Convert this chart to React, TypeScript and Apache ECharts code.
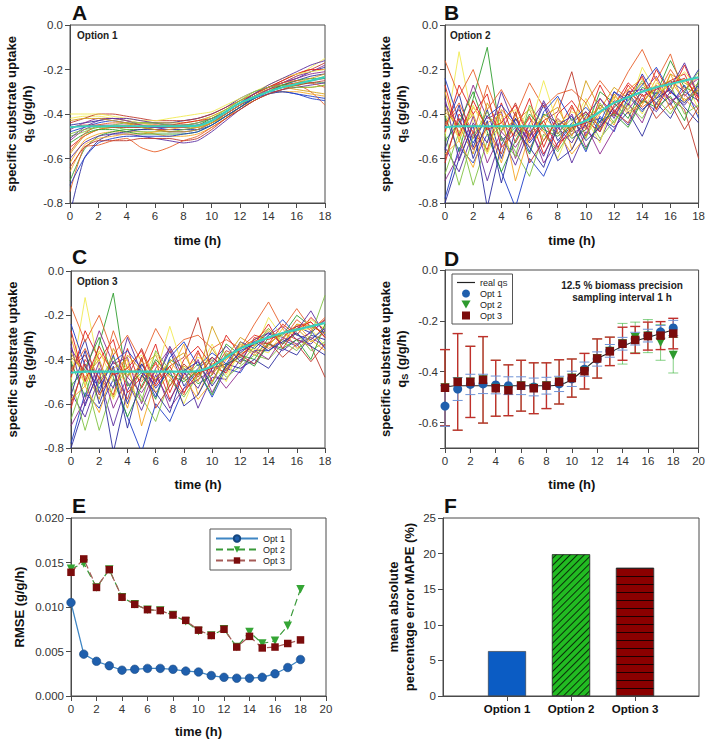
import React, { useEffect, useRef } from "react";
import * as echarts from "echarts";

const FONT = "Arial, 'Liberation Sans', Helvetica, sans-serif";

const hours = [0, 1, 2, 3, 4, 5, 6, 7, 8, 9, 10, 11, 12, 13, 14, 15, 16, 17, 18];

// real specific substrate uptake
const realQs = [-0.46, -0.455, -0.455, -0.455, -0.455, -0.455, -0.455, -0.455, -0.455, -0.452, -0.43, -0.39, -0.35, -0.325, -0.3, -0.28, -0.265, -0.25, -0.235];

// Panel A: option 1 trajectories
const optionOneLines = [
  [-0.45, -0.44, -0.43, -0.42, -0.43, -0.44, -0.44, -0.44, -0.43, -0.42, -0.40, -0.37, -0.33, -0.30, -0.28, -0.26, -0.24, -0.21, -0.19],
  [-0.55, -0.50, -0.47, -0.46, -0.46, -0.46, -0.47, -0.47, -0.47, -0.46, -0.44, -0.40, -0.36, -0.32, -0.29, -0.27, -0.26, -0.25, -0.24],
  [-0.62, -0.52, -0.49, -0.48, -0.48, -0.48, -0.49, -0.50, -0.50, -0.49, -0.46, -0.42, -0.38, -0.34, -0.31, -0.29, -0.28, -0.28, -0.27],
  [-0.42, -0.41, -0.41, -0.42, -0.43, -0.44, -0.45, -0.45, -0.45, -0.44, -0.41, -0.38, -0.35, -0.32, -0.29, -0.26, -0.23, -0.19, -0.15],
  [-0.70, -0.56, -0.50, -0.48, -0.47, -0.47, -0.46, -0.46, -0.46, -0.45, -0.42, -0.39, -0.35, -0.32, -0.30, -0.28, -0.27, -0.26, -0.26],
  [-0.48, -0.46, -0.44, -0.43, -0.44, -0.45, -0.46, -0.47, -0.47, -0.47, -0.45, -0.41, -0.37, -0.33, -0.30, -0.30, -0.31, -0.32, -0.33],
  [-0.52, -0.47, -0.45, -0.45, -0.45, -0.46, -0.46, -0.46, -0.45, -0.45, -0.43, -0.39, -0.35, -0.31, -0.28, -0.26, -0.23, -0.21, -0.18],
  [-0.75, -0.55, -0.54, -0.52, -0.51, -0.55, -0.57, -0.55, -0.52, -0.50, -0.46, -0.42, -0.37, -0.33, -0.29, -0.27, -0.27, -0.30, -0.36],
  [-0.60, -0.53, -0.50, -0.49, -0.49, -0.50, -0.51, -0.52, -0.53, -0.52, -0.48, -0.43, -0.38, -0.34, -0.31, -0.29, -0.28, -0.27, -0.26],
  [-0.44, -0.42, -0.40, -0.40, -0.41, -0.42, -0.43, -0.43, -0.43, -0.42, -0.40, -0.37, -0.34, -0.31, -0.28, -0.25, -0.22, -0.20, -0.17],
  [-0.50, -0.48, -0.46, -0.46, -0.47, -0.48, -0.48, -0.48, -0.47, -0.46, -0.44, -0.41, -0.37, -0.33, -0.30, -0.28, -0.27, -0.25, -0.23],
  [-0.58, -0.50, -0.47, -0.46, -0.45, -0.44, -0.44, -0.44, -0.44, -0.43, -0.41, -0.38, -0.34, -0.31, -0.29, -0.28, -0.29, -0.30, -0.31],
  [-0.85, -0.60, -0.52, -0.49, -0.48, -0.47, -0.47, -0.48, -0.48, -0.47, -0.44, -0.40, -0.36, -0.33, -0.30, -0.27, -0.25, -0.23, -0.22],
  [-0.46, -0.45, -0.45, -0.46, -0.46, -0.46, -0.45, -0.45, -0.44, -0.43, -0.42, -0.39, -0.35, -0.31, -0.28, -0.25, -0.22, -0.20, -0.20],
  [-0.66, -0.54, -0.51, -0.50, -0.49, -0.49, -0.48, -0.47, -0.46, -0.46, -0.44, -0.41, -0.37, -0.34, -0.31, -0.30, -0.30, -0.31, -0.32],
  [-0.40, -0.40, -0.40, -0.41, -0.42, -0.43, -0.43, -0.42, -0.41, -0.40, -0.39, -0.36, -0.33, -0.30, -0.27, -0.24, -0.22, -0.21, -0.20],
  [-0.53, -0.49, -0.47, -0.47, -0.48, -0.49, -0.49, -0.49, -0.49, -0.48, -0.45, -0.41, -0.37, -0.33, -0.30, -0.27, -0.25, -0.24, -0.24],
  [-0.72, -0.60, -0.53, -0.51, -0.50, -0.50, -0.50, -0.50, -0.49, -0.48, -0.45, -0.41, -0.37, -0.33, -0.31, -0.30, -0.31, -0.33, -0.34],
  [-0.47, -0.44, -0.42, -0.42, -0.43, -0.45, -0.46, -0.46, -0.46, -0.45, -0.43, -0.40, -0.36, -0.32, -0.29, -0.26, -0.24, -0.22, -0.21],
  [-0.57, -0.49, -0.45, -0.44, -0.44, -0.45, -0.45, -0.46, -0.46, -0.45, -0.43, -0.39, -0.35, -0.31, -0.28, -0.26, -0.25, -0.26, -0.28],
  [-0.51, -0.46, -0.43, -0.42, -0.42, -0.43, -0.44, -0.45, -0.45, -0.44, -0.42, -0.39, -0.35, -0.31, -0.27, -0.24, -0.21, -0.18, -0.16],
  [-0.64, -0.55, -0.52, -0.52, -0.52, -0.51, -0.51, -0.51, -0.52, -0.51, -0.47, -0.42, -0.38, -0.34, -0.31, -0.29, -0.27, -0.26, -0.25],
  [-0.49, -0.47, -0.46, -0.45, -0.44, -0.44, -0.44, -0.45, -0.45, -0.44, -0.42, -0.38, -0.34, -0.30, -0.28, -0.27, -0.28, -0.28, -0.27],
  [-0.43, -0.42, -0.42, -0.43, -0.44, -0.46, -0.47, -0.48, -0.48, -0.47, -0.44, -0.40, -0.36, -0.32, -0.30, -0.28, -0.26, -0.24, -0.22],
];

// Panel B: option 2 trajectories
const optionTwoLines = [
  [-0.46, -0.31, -0.55, -0.38, -0.60, -0.42, -0.50, -0.36, -0.52, -0.44, -0.39, -0.48, -0.30, -0.36, -0.22, -0.33, -0.25, -0.30, -0.20],
  [-0.62, -0.40, -0.48, -0.56, -0.35, -0.53, -0.41, -0.58, -0.47, -0.36, -0.50, -0.33, -0.40, -0.27, -0.35, -0.20, -0.31, -0.18, -0.33],
  [-0.30, -0.52, -0.37, -0.45, -0.62, -0.40, -0.55, -0.46, -0.33, -0.56, -0.42, -0.37, -0.45, -0.29, -0.24, -0.38, -0.22, -0.35, -0.27],
  [-0.50, -0.12, -0.44, -0.58, -0.43, -0.49, -0.37, -0.47, -0.60, -0.45, -0.33, -0.44, -0.37, -0.31, -0.40, -0.26, -0.29, -0.24, -0.38],
  [-0.41, -0.57, -0.33, -0.10, -0.52, -0.46, -0.58, -0.40, -0.44, -0.51, -0.47, -0.30, -0.35, -0.42, -0.28, -0.31, -0.16, -0.28, -0.31],
  [-0.78, -0.55, -0.62, -0.49, -0.66, -0.82, -0.60, -0.68, -0.53, -0.45, -0.57, -0.41, -0.48, -0.32, -0.39, -0.30, -0.36, -0.27, -0.42],
  [-0.35, -0.46, -0.27, -0.42, -0.39, -0.60, -0.44, -0.35, -0.49, -0.40, -0.55, -0.45, -0.34, -0.38, -0.30, -0.23, -0.35, -0.29, -0.24],
  [-0.16, -0.32, -0.20, -0.38, -0.29, -0.41, -0.26, -0.37, -0.31, -0.29, -0.35, -0.25, -0.33, -0.21, -0.11, -0.25, -0.13, -0.32, -0.26],
  [-0.55, -0.66, -0.48, -0.70, -0.50, -0.63, -0.47, -0.59, -0.44, -0.62, -0.48, -0.52, -0.38, -0.45, -0.33, -0.39, -0.30, -0.36, -0.28],
  [-0.44, -0.38, -0.51, -0.41, -0.48, -0.35, -0.50, -0.43, -0.39, -0.21, -0.46, -0.36, -0.41, -0.30, -0.35, -0.27, -0.33, -0.38, -0.60],
  [-0.67, -0.48, -0.72, -0.52, -0.45, -0.57, -0.68, -0.49, -0.57, -0.47, -0.40, -0.51, -0.43, -0.36, -0.42, -0.31, -0.27, -0.40, -0.36],
  [-0.39, -0.45, -0.58, -0.35, -0.47, -0.43, -0.38, -0.52, -0.43, -0.47, -0.25, -0.38, -0.28, -0.33, -0.26, -0.36, -0.22, -0.26, -0.30],
  [-0.80, -0.60, -0.45, -0.82, -0.54, -0.42, -0.53, -0.45, -0.61, -0.56, -0.44, -0.42, -0.46, -0.39, -0.50, -0.35, -0.42, -0.30, -0.34],
  [-0.48, -0.27, -0.40, -0.31, -0.55, -0.48, -0.33, -0.55, -0.40, -0.34, -0.43, -0.48, -0.36, -0.26, -0.32, -0.29, -0.25, -0.22, -0.35],
  [-0.58, -0.52, -0.64, -0.44, -0.40, -0.70, -0.49, -0.41, -0.48, -0.58, -0.50, -0.40, -0.33, -0.40, -0.36, -0.24, -0.38, -0.33, -0.40],
  [-0.40, -0.51, -0.36, -0.50, -0.42, -0.38, -0.47, -0.25, -0.45, -0.39, -0.42, -0.53, -0.32, -0.38, -0.19, -0.30, -0.27, -0.21, -0.29],
  [-0.52, -0.44, -0.30, -0.48, -0.66, -0.52, -0.40, -0.47, -0.50, -0.45, -0.56, -0.43, -0.40, -0.46, -0.34, -0.37, -0.32, -0.43, -0.25],
  [-0.24, -0.43, -0.53, -0.41, -0.36, -0.44, -0.57, -0.39, -0.32, -0.43, -0.37, -0.44, -0.30, -0.34, -0.27, -0.19, -0.30, -0.35, -0.27],
  [-0.70, -0.58, -0.41, -0.62, -0.48, -0.55, -0.45, -0.62, -0.53, -0.49, -0.45, -0.58, -0.47, -0.35, -0.44, -0.28, -0.34, -0.31, -0.38],
  [-0.45, -0.35, -0.49, -0.27, -0.44, -0.50, -0.42, -0.48, -0.56, -0.37, -0.47, -0.39, -0.35, -0.29, -0.37, -0.32, -0.20, -0.29, -0.23],
  [-0.33, -0.61, -0.44, -0.53, -0.30, -0.46, -0.51, -0.34, -0.46, -0.53, -0.41, -0.33, -0.42, -0.30, -0.29, -0.35, -0.28, -0.17, -0.32],
  [-0.60, -0.42, -0.56, -0.46, -0.58, -0.39, -0.62, -0.52, -0.42, -0.48, -0.39, -0.46, -0.39, -0.44, -0.31, -0.42, -0.35, -0.47, -0.37],
  [-0.49, -0.72, -0.50, -0.39, -0.51, -0.59, -0.36, -0.45, -0.49, -0.42, -0.51, -0.35, -0.44, -0.34, -0.25, -0.33, -0.40, -0.30, -0.21],
  [-0.37, -0.48, -0.40, -0.57, -0.38, -0.45, -0.49, -0.41, -0.37, -0.50, -0.35, -0.47, -0.31, -0.39, -0.35, -0.28, -0.25, -0.34, -0.29],
  [-0.56, -0.36, -0.60, -0.43, -0.71, -0.47, -0.55, -0.64, -0.45, -0.41, -0.52, -0.46, -0.37, -0.31, -0.38, -0.33, -0.29, -0.37, -0.44],
  [-0.27, -0.50, -0.34, -0.47, -0.44, -0.36, -0.52, -0.43, -0.55, -0.46, -0.44, -0.27, -0.39, -0.32, -0.23, -0.38, -0.26, -0.24, -0.33],
];

// Panel C: option 3 trajectories share the first 11 samples (0-10 h) with option 2; these are their values from 11 h to 18 h
const optionThreeTails = [
  [-0.45, -0.36, -0.33, -0.28, -0.30, -0.25, -0.28, -0.22],
  [-0.38, -0.42, -0.30, -0.33, -0.24, -0.29, -0.21, -0.27],
  [-0.40, -0.35, -0.31, -0.26, -0.33, -0.24, -0.31, -0.25],
  [-0.47, -0.37, -0.35, -0.37, -0.28, -0.27, -0.26, -0.34],
  [-0.33, -0.38, -0.40, -0.30, -0.29, -0.20, -0.25, -0.28],
  [-0.44, -0.46, -0.36, -0.36, -0.31, -0.34, -0.27, -0.35],
  [-0.43, -0.33, -0.37, -0.29, -0.25, -0.31, -0.28, -0.22],
  [-0.31, -0.35, -0.24, -0.14, -0.26, -0.17, -0.26, -0.22],
  [-0.49, -0.40, -0.42, -0.33, -0.36, -0.31, -0.33, -0.27],
  [-0.36, -0.39, -0.32, -0.33, -0.28, -0.31, -0.34, -0.48],
  [-0.48, -0.43, -0.38, -0.40, -0.33, -0.28, -0.36, -0.32],
  [-0.39, -0.30, -0.34, -0.27, -0.33, -0.24, -0.25, -0.28],
  [-0.42, -0.44, -0.40, -0.44, -0.35, -0.38, -0.29, -0.31],
  [-0.46, -0.35, -0.29, -0.31, -0.28, -0.25, -0.23, -0.30],
  [-0.40, -0.34, -0.38, -0.34, -0.26, -0.35, -0.31, -0.36],
  [-0.50, -0.33, -0.36, -0.21, -0.30, -0.27, -0.22, -0.26],
  [-0.42, -0.39, -0.43, -0.33, -0.35, -0.31, -0.40, -0.24],
  [-0.42, -0.32, -0.35, -0.29, -0.22, -0.29, -0.31, -0.26],
  [-0.53, -0.45, -0.36, -0.40, -0.30, -0.33, -0.30, -0.34],
  [-0.38, -0.35, -0.31, -0.35, -0.31, -0.22, -0.27, -0.21],
  [-0.34, -0.41, -0.31, -0.28, -0.33, -0.27, -0.18, -0.29],
  [-0.44, -0.38, -0.42, -0.32, -0.39, -0.33, -0.41, -0.33],
  [-0.37, -0.42, -0.34, -0.26, -0.32, -0.36, -0.29, -0.11],
  [-0.45, -0.32, -0.37, -0.33, -0.28, -0.26, -0.32, -0.28],
  [-0.43, -0.37, -0.32, -0.36, -0.32, -0.28, -0.34, -0.38],
  [-0.29, -0.38, -0.33, -0.24, -0.35, -0.26, -0.23, -0.30],
];

// Panel D: estimated qS (mean) and standard deviations
const opt1Mean = [-0.535, -0.468, -0.45, -0.448, -0.452, -0.455, -0.455, -0.46, -0.455, -0.448, -0.428, -0.39, -0.35, -0.318, -0.29, -0.27, -0.258, -0.243, -0.228];
const opt1Err = [0.08, 0.045, 0.04, 0.038, 0.035, 0.035, 0.035, 0.035, 0.033, 0.03, 0.03, 0.028, 0.028, 0.025, 0.025, 0.025, 0.025, 0.025, 0.03];
const opt2Mean = [-0.463, -0.44, -0.44, -0.432, -0.465, -0.473, -0.455, -0.465, -0.455, -0.44, -0.425, -0.398, -0.348, -0.32, -0.29, -0.265, -0.26, -0.285, -0.335];
const opt2Err = [0.15, 0.19, 0.14, 0.17, 0.11, 0.1, 0.1, 0.1, 0.09, 0.087, 0.075, 0.07, 0.077, 0.056, 0.08, 0.06, 0.065, 0.07, 0.07];
const opt3Mean = [-0.463, -0.44, -0.44, -0.432, -0.465, -0.473, -0.455, -0.465, -0.455, -0.44, -0.425, -0.398, -0.348, -0.32, -0.29, -0.275, -0.26, -0.258, -0.25];
const opt3Err = [0.15, 0.19, 0.14, 0.17, 0.11, 0.1, 0.1, 0.1, 0.09, 0.087, 0.075, 0.07, 0.077, 0.056, 0.065, 0.053, 0.055, 0.055, 0.06];

// Panel E: RMSE
const rmseOpt1 = [0.0105, 0.0047, 0.0039, 0.0034, 0.0029, 0.003, 0.0031, 0.0031, 0.003, 0.0028, 0.0027, 0.0023, 0.0021, 0.002, 0.002, 0.0021, 0.0025, 0.0032, 0.0041];
const rmseOpt2 = [0.0143, 0.0149, 0.0122, 0.0142, 0.0111, 0.0103, 0.0097, 0.0096, 0.0091, 0.0084, 0.0073, 0.0068, 0.0075, 0.0055, 0.0072, 0.0059, 0.0062, 0.0079, 0.012];
const rmseOpt3 = [0.0139, 0.0154, 0.0122, 0.0142, 0.0111, 0.0103, 0.0097, 0.0096, 0.0091, 0.0085, 0.0074, 0.0068, 0.0075, 0.0055, 0.0067, 0.0054, 0.0055, 0.0059, 0.0063];

// Panel F: MAPE
const mapeCategories = ["Option 1", "Option 2", "Option 3"];
const mapeValues = [6.3, 19.9, 18.0];

const palette = ["#2b2b9e", "#e0201c", "#f5a623", "#f0ea50", "#2f9e2f", "#1c3cc8", "#8e2a8e", "#e8602a", "#5a2ca0", "#c0392b", "#7fc241", "#d4a017"];

const AXIS_COLOR = "#4a4a4a";
const LABEL_COLOR = "#333";

function buildOption() {
  const grids = [
    { left: 70, top: 25, width: 255, height: 178 },
    { left: 445, top: 25, width: 256, height: 178 },
    { left: 71, top: 271, width: 254, height: 177 },
    { left: 445, top: 270, width: 256, height: 178 },
    { left: 71, top: 518, width: 255, height: 178 },
    { left: 443, top: 518, width: 256, height: 178 },
  ].map((g) => ({ ...g, show: true, borderColor: AXIS_COLOR, borderWidth: 1, backgroundColor: "#fff" }));

  const common = {
    axisLine: { show: true, onZero: false, lineStyle: { color: AXIS_COLOR, width: 1 } },
    axisTick: { show: true, length: 5, lineStyle: { color: AXIS_COLOR } },
    splitLine: { show: false },
    axisLabel: { color: LABEL_COLOR, fontSize: 11.5, fontFamily: FONT, margin: 7 },
    nameTextStyle: { color: "#111", fontSize: 13, fontWeight: "bold", fontFamily: FONT, lineHeight: 16 },
  };
  const subRich = { s: { fontSize: 9, fontWeight: "bold", fontFamily: FONT, color: "#111", lineHeight: 9, verticalAlign: "bottom" } };
  const qsName = "specific substrate uptake\nq{s|S} (g/g/h)";

  const timeX = (idx: number, max: number, gap: number) => ({
    ...common,
    type: "value",
    gridIndex: idx,
    min: 0,
    max,
    interval: 2,
    name: "time (h)",
    nameLocation: "middle",
    nameGap: gap,
  });

  const qsY = (idx: number, gap: number) => ({
    ...common,
    type: "value",
    gridIndex: idx,
    min: -0.8,
    max: 0,
    interval: 0.2,
    name: qsName,
    nameLocation: "middle",
    nameGap: gap,
    nameTextStyle: { ...common.nameTextStyle, rich: subRich },
    axisLabel: { ...common.axisLabel, formatter: (v: number) => v.toFixed(1) },
  });

  const xAxis: any[] = [
    timeX(0, 18, 29),
    timeX(1, 18, 29),
    timeX(2, 18, 28),
    timeX(3, 20, 28),
    timeX(4, 20, 27),
    {
      ...common,
      type: "category",
      gridIndex: 5,
      boundaryGap: false,
      data: ["", ...mapeCategories, ""],
      axisTick: { ...common.axisTick, interval: (i: number) => i > 0 && i < 4 },
      axisLabel: { ...common.axisLabel, interval: 0, color: "#111", fontWeight: "bold", fontSize: 11.5 },
    },
  ];

  const yAxis: any[] = [
    qsY(0, 35),
    qsY(1, 36),
    qsY(2, 35),
    {
      ...qsY(3, 36),
      min: -0.7,
      interval: undefined,
      minInterval: 0.2,
      maxInterval: 0.2,
      axisLabel: {
        ...common.axisLabel,
        formatter: (v: number) => (Math.abs(v + 0.7) < 1e-6 ? "" : v.toFixed(1)),
      },
    },
    {
      ...common,
      type: "value",
      gridIndex: 4,
      min: 0,
      max: 0.02,
      interval: 0.005,
      name: "RMSE (g/g/h)",
      nameLocation: "middle",
      nameGap: 44,
      axisLabel: { ...common.axisLabel, formatter: (v: number) => v.toFixed(3) },
    },
    {
      ...common,
      type: "value",
      gridIndex: 5,
      min: 0,
      max: 25,
      interval: 5,
      name: "mean absolute\npercentage error MAPE (%)",
      nameLocation: "middle",
      nameGap: 26,
    },
  ];

  const series: any[] = [];
  const addLines = (lines: number[][], idx: number, prefix: string, smooth: boolean) => {
    lines.forEach((l, i) => {
      series.push({
        type: "line",
        name: prefix + i,
        xAxisIndex: idx,
        yAxisIndex: idx,
        data: l.map((v, j) => [hours[j], v]),
        symbol: "none",
        showSymbol: false,
        smooth: smooth ? 0.2 : false,
        silent: true,
        lineStyle: { width: 0.9, color: palette[i % palette.length] },
        z: 2,
      });
    });
    series.push({
      type: "line",
      name: prefix + "real",
      xAxisIndex: idx,
      yAxisIndex: idx,
      data: realQs.map((v, j) => [hours[j], v]),
      symbol: "none",
      smooth: 0.3,
      silent: true,
      lineStyle: { width: 2.2, color: "#38d0bd" },
      z: 3,
    });
  };
  addLines(optionOneLines, 0, "a", true);
  addLines(optionTwoLines, 1, "b", false);
  const optionThreeLines = optionTwoLines.map((l, i) => [...l.slice(0, 11), ...optionThreeTails[i]]);
  addLines(optionThreeLines, 2, "c", false);

  // Panel D
  series.push({
    type: "line",
    name: "real qS",
    xAxisIndex: 3,
    yAxisIndex: 3,
    data: realQs.map((v, j) => [hours[j], v]),
    symbol: "none",
    smooth: 0.3,
    lineStyle: { width: 1.1, color: "#222" },
    itemStyle: { color: "#222" },
    z: 2,
  });
  const errRender = (color: string, lw: number) => (params: any, api: any) => {
    const x = api.value(0);
    const lo = api.value(1);
    const hi = api.value(2);
    const p1 = api.coord([x, hi]);
    const p2 = api.coord([x, lo]);
    const w = 5;
    const style = { stroke: color, lineWidth: lw, fill: "none" };
    return {
      type: "group",
      children: [
        { type: "line", shape: { x1: p1[0], y1: p1[1], x2: p2[0], y2: p2[1] }, style },
        { type: "line", shape: { x1: p1[0] - w, y1: p1[1], x2: p1[0] + w, y2: p1[1] }, style },
        { type: "line", shape: { x1: p2[0] - w, y1: p2[1], x2: p2[0] + w, y2: p2[1] }, style },
      ],
    };
  };
  const errSeries = (name: string, mean: number[], err: number[], color: string, lw: number) => ({
    type: "custom",
    name,
    xAxisIndex: 3,
    yAxisIndex: 3,
    renderItem: errRender(color, lw),
    data: hours.map((h, i) => [h, mean[i] - err[i], mean[i] + err[i]]),
    encode: { x: 0, y: [1, 2] },
    silent: true,
    z: 3,
  });
  series.push(errSeries("err2", opt2Mean, opt2Err, "#30b030", 0.6));
  series.push(errSeries("err3", opt3Mean, opt3Err, "#c0302c", 1.4));
  series.push(errSeries("err1", opt1Mean, opt1Err, "#6f93d6", 1));
  const dots = (name: string, mean: number[], symbol: string, size: number, color: string, rotate = 0) => ({
    type: "scatter",
    name,
    xAxisIndex: 3,
    yAxisIndex: 3,
    data: mean.map((v, j) => [hours[j], v]),
    symbol,
    symbolSize: size,
    symbolRotate: rotate,
    itemStyle: { color, opacity: 1 },
    z: 4,
  });
  series.push(dots("Opt 1", opt1Mean, "circle", 9, "#1f5fad"));
  series.push(dots("Opt 2", opt2Mean, "triangle", 9, "#2e9a2e", 180));
  series.push(dots("Opt 3", opt3Mean, "rect", 8.5, "#7b0c0c"));

  // Panel E
  series.push({
    type: "line",
    name: "E1",
    xAxisIndex: 4,
    yAxisIndex: 4,
    data: rmseOpt1.map((v, j) => [hours[j], v]),
    symbol: "circle",
    symbolSize: 8.5,
    lineStyle: { color: "#3f86c4", width: 1.3 },
    itemStyle: { color: "#1f5fad", borderColor: "#16477f", borderWidth: 0.6 },
  });
  series.push({
    type: "line",
    name: "E2",
    xAxisIndex: 4,
    yAxisIndex: 4,
    data: rmseOpt2.map((v, j) => [hours[j], v]),
    symbol: "triangle",
    symbolRotate: 180,
    symbolSize: 8.5,
    lineStyle: { color: "#3a9a3a", width: 1.2, type: [7, 4] },
    itemStyle: { color: "#35a535" },
  });
  series.push({
    type: "line",
    name: "E3",
    xAxisIndex: 4,
    yAxisIndex: 4,
    data: rmseOpt3.map((v, j) => [hours[j], v]),
    symbol: "rect",
    symbolSize: 7.5,
    lineStyle: { color: "#a65b57", width: 1.2, type: [7, 4] },
    itemStyle: { color: "#7b0c0c" },
  });

  // Panel F
  const barStyles = [
    { color: "#0b5cc4", borderColor: "#333", borderWidth: 0.6 },
    {
      color: "#22bb22",
      borderColor: "#333",
      borderWidth: 0.6,
      decal: { symbol: "rect", symbolSize: 1, dashArrayX: [1, 0], dashArrayY: [1, 4], rotation: -Math.PI / 4, color: "rgba(0,0,0,0.75)" },
    },
    {
      color: "#8b0000",
      borderColor: "#333",
      borderWidth: 0.6,
      decal: { symbol: "rect", symbolSize: 1, dashArrayX: [1, 0], dashArrayY: [1, 6.3], rotation: 0, color: "rgba(0,0,0,0.8)" },
    },
  ];
  series.push({
    type: "bar",
    name: "MAPE",
    xAxisIndex: 5,
    yAxisIndex: 5,
    barWidth: 38,
    data: ["-", ...mapeValues.map((v, i) => ({ value: v, itemStyle: barStyles[i] })), "-"],
  });

  const legendText = { fontSize: 9, color: "#222", fontFamily: FONT };
  const legend: any[] = [
    {
      data: [
        { name: "real qS", icon: "path://M0,0H18V1.2H0Z" },
        { name: "Opt 1", icon: "circle" },
        { name: "Opt 2", icon: "path://M0,0H8L4,7Z" },
        { name: "Opt 3", icon: "path://M0,0H8V8H0Z" },
      ],
      orient: "vertical",
      left: 452,
      top: 274,
      padding: [4, 5, 4, 5],
      itemWidth: 18,
      itemHeight: 8,
      itemGap: 2,
      borderColor: "#555",
      borderWidth: 1,
      backgroundColor: "#fff",
      selectedMode: false,
      formatter: (n: string) => (n === "real qS" ? "real q{s|S}" : n),
      textStyle: { ...legendText, rich: { s: { fontSize: 7.5, fontFamily: FONT, color: "#222", lineHeight: 7, verticalAlign: "bottom" } } },
    },
    {
      data: ["E1", "E2", "E3"],
      orient: "vertical",
      left: 210,
      top: 529,
      padding: [5, 6, 5, 5],
      itemWidth: 42,
      itemHeight: 8,
      itemGap: 2,
      borderColor: "#555",
      borderWidth: 1,
      backgroundColor: "#fff",
      selectedMode: false,
      formatter: (n: string) => "Opt " + n.slice(1),
      textStyle: legendText,
    },
  ];

  const letter = (t: string, x: number, y: number) => ({
    type: "text",
    x,
    y,
    style: { text: t, font: `bold 21px ${FONT}`, fill: "#111", textAlign: "left", textVerticalAlign: "middle" },
  });
  const small = (t: string, x: number, y: number, align = "left") => ({
    type: "text",
    x,
    y,
    z: 100,
    style: { text: t, font: `bold 10px ${FONT}`, fill: "#222", textAlign: align, textVerticalAlign: "middle" },
  });

  return {
    animation: false,
    backgroundColor: "#fff",
    textStyle: { fontFamily: FONT },
    grid: grids,
    xAxis,
    yAxis,
    legend,
    series,
    graphic: [
      letter("A", 72, 12),
      letter("B", 444, 12),
      letter("C", 72, 256),
      letter("D", 444, 258),
      letter("E", 72, 505),
      letter("F", 444, 505),
      small("Option 1", 77, 35),
      small("Option 2", 450, 35),
      small("Option 3", 77, 281),
      small("12.5 % biomass precision", 622, 285, "center"),
      small("sampling interval 1 h", 622, 297, "center"),
    ],
  };
}

export default function App() {
  const ref = useRef<HTMLDivElement>(null);
  useEffect(() => {
    if (!ref.current) return;
    const chart = echarts.init(ref.current, undefined, { renderer: "svg" });
    chart.setOption(buildOption() as any);
    return () => chart.dispose();
  }, []);
  return (
    <div
      ref={ref}
      style={{ position: "fixed", left: 0, top: 0, width: 708, height: 741, background: "#fff" }}
    />
  );
}
